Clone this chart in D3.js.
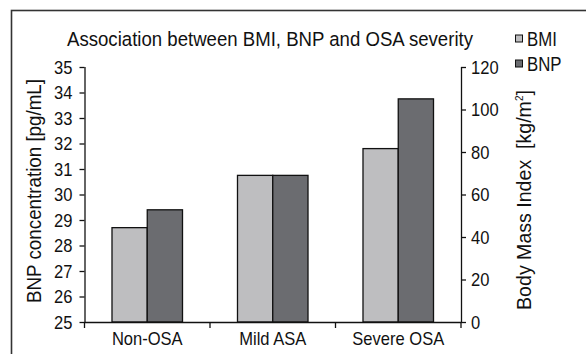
<!DOCTYPE html>
<html><head><meta charset="utf-8">
<script src="https://cdn.jsdelivr.net/npm/d3@7"></script>
<style>
body{margin:0;background:#fff;}
svg{display:block;}
text{font-family:"Liberation Sans",Arial,sans-serif;fill:#111;}
</style></head>
<body>
<svg id="c" width="586" height="354"></svg>
<script>
const categories = ["Non-OSA", "Mild ASA", "Severe OSA"];
const seriesNames = ["BMI", "BNP"];
const bmiValues = [28.7, 30.75, 31.8];
const bnpValues = [29.4, 30.75, 33.75];
const leftTicks = [25,26,27,28,29,30,31,32,33,34,35];
const rightTicks = [0,20,40,60,80,100,120];
const colors = ["#bebec0", "#6b6c70"];

const SX = 0.87; // horizontal condensing of glyphs
function condense(sel, k){
  sel.each(function(){
    const L = this.getComputedTextLength();
    d3.select(this).attr("textLength", L*(k||SX)).attr("lengthAdjust","spacingAndGlyphs");
  });
}
function fitTo(sel, len){
  sel.attr("textLength", len).attr("lengthAdjust","spacingAndGlyphs");
}

const svg = d3.select("#c");
const m = {l:84.5, r:461, t:67, b:322};

// frame
svg.append("rect").attr("x",11.5).attr("y",10.5).attr("width",600).attr("height",400)
  .attr("fill","none").attr("stroke","#333").attr("stroke-width",1.6);

const x0 = d3.scaleBand().domain(categories).range([m.l, m.r]).padding(0);
const x1 = d3.scaleBand().domain(seriesNames).range([0, x0.bandwidth()]).paddingInner(0).paddingOuter(0.78);
const yL = d3.scaleLinear().domain([25,35]).range([m.b, m.t]);
const yR = d3.scaleLinear().domain([0,120]).range([m.b, m.t]);

const data = categories.map((c,i)=>({cat:c, vals:[bmiValues[i], bnpValues[i]]}));

const g = svg.append("g");
data.forEach(d=>{
  d.vals.forEach((v,j)=>{
    g.append("rect")
      .attr("x", x0(d.cat) + x1(seriesNames[j]))
      .attr("y", yL(v))
      .attr("width", x1.bandwidth())
      .attr("height", yL(25) - yL(v))
      .attr("fill", colors[j]).attr("stroke","#111").attr("stroke-width",1.3);
  });
});

const fs = 19;
const la = svg.append("g").attr("transform",`translate(${m.l},0)`)
  .call(d3.axisLeft(yL).tickValues(leftTicks).tickSize(5).tickPadding(7).tickFormat(d3.format("d")));
const ra = svg.append("g").attr("transform",`translate(${m.r},0)`)
  .call(d3.axisRight(yR).tickValues(rightTicks).tickSize(5).tickPadding(5).tickFormat(d3.format("d")));
const ba = svg.append("g").attr("transform",`translate(0,${m.b})`)
  .call(d3.axisBottom(x0).tickSize(0).tickPadding(10));
const bounds = categories.map(c=>x0(c)).concat([x0(categories[categories.length-1])+x0.bandwidth()]);
svg.append("g").selectAll("line").data(bounds).join("line")
  .attr("x1",d=>d).attr("x2",d=>d).attr("y1",m.b).attr("y2",m.b+6)
  .attr("stroke","#111").attr("stroke-width",1.3);

[la,ra,ba].forEach(a=>{
  a.selectAll("path").attr("stroke","#111").attr("stroke-width",1.3);
  a.selectAll("line").attr("stroke","#111").attr("stroke-width",1.3);
  a.selectAll("text").style("font-size",fs+"px").style("font-family",null).attr("fill","#111");
  condense(a.selectAll("text"));
});
ba.select("path.domain").attr("d",`M${m.l},0.5H${m.r}`);
la.select("path.domain").attr("d",`M0.5,${m.b}V${m.t}`);
ra.select("path.domain").attr("d",`M0.5,${m.b}V${m.t}`);

// title
const tt = svg.append("text").attr("x",270).attr("y",46).attr("text-anchor","middle")
  .style("font-size","20.5px").text("Association between BMI, BNP and OSA severity");
fitTo(tt, 406);

// legend
seriesNames.forEach((s,i)=>{
  const ly = 38.5 + i*25;
  svg.append("rect").attr("x",515.5).attr("y",ly-3.5).attr("width",7).attr("height",7)
    .attr("fill",colors[i]).attr("stroke","#111").attr("stroke-width",1);
  const lt = svg.append("text").attr("x",527).attr("y",ly+7).style("font-size","19.5px").text(s);
  condense(lt, 0.86);
});

// axis titles
const lt = svg.append("text").attr("transform","translate(41,191) rotate(-90)").attr("text-anchor","middle")
  .style("font-size","19.5px").text("BNP concentration [pg/mL]");
fitTo(lt, 224);

const rt = svg.append("text").attr("transform","translate(531,200) rotate(-90)").attr("text-anchor","middle")
  .attr("xml:space","preserve").style("font-size","19.5px");
rt.append("tspan").text("Body Mass Index  [kg/m");
rt.append("tspan").attr("dy",-8).style("font-size","10px").text("2");
rt.append("tspan").attr("dy",8).text("]");
const full = rt.node().getComputedTextLength();
rt.attr("transform",`translate(531,200) rotate(-90) scale(${220/full},1)`);
</script>
</body></html>
